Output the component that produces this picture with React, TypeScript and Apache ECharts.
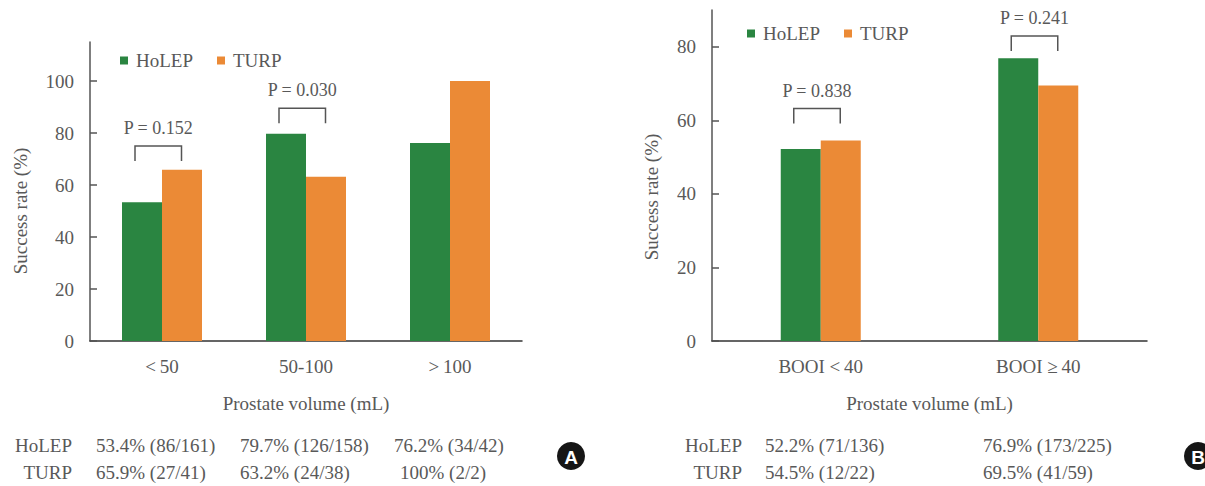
import React, { useEffect, useRef } from "react";
import * as echarts from "echarts";

const categoriesA = ["<\u200950", "50-100", ">\u2009100"];
const holepA = [53.4, 79.7, 76.2];
const turpA = [65.9, 63.2, 100];
const yTicksA = [0, 20, 40, 60, 80, 100];

const categoriesB = ["BOOI <\u200940", "BOOI \u2265\u200940"];
const holepB = [52.2, 76.9];
const turpB = [54.5, 69.5];
const yTicksB = [0, 20, 40, 60, 80];

const pCatsA = [0, 1];
const pLevelsA = [75, 89.5];
const pLabelsA = ["P = 0.152", "P = 0.030"];
const pCatsB = [0, 1];
const pLevelsB = [63.2, 82.9];
const pLabelsB = ["P = 0.838", "P = 0.241"];

const tableHolepA = ["53.4% (86/161)", "79.7% (126/158)", "76.2% (34/42)"];
const tableTurpA = ["65.9% (27/41)", "63.2% (24/38)", "100% (2/2)"];
const tableHolepB = ["52.2% (71/136)", "76.9% (173/225)"];
const tableTurpB = ["54.5% (12/22)", "69.5% (41/59)"];

const GREEN = "#2A8541";
const ORANGE = "#EB8A36";
const TEXT = "#595959";
const FONT = "Liberation Serif";

function bracketSeries(xAxisIndex: number, cats: number[], levels: number[], labels: string[]) {
  return {
    type: "custom",
    xAxisIndex,
    yAxisIndex: xAxisIndex,
    clip: false,
    silent: true,
    data: cats.map((c, i) => [c, levels[i]]),
    renderItem: (params: any, api: any) => {
      const p = api.coord([api.value(0), api.value(1)]);
      const cx = p[0];
      const y = p[1];
      const l = cx - 27;
      const r = cx + 19.5;
      return {
        type: "group",
        children: [
          {
            type: "polyline",
            shape: { points: [[l, y + 15], [l, y], [r, y], [r, y + 15]] },
            style: { stroke: "#555", lineWidth: 1.5, fill: "none" },
          },
          {
            type: "text",
            x: (l + r) / 2,
            y: y - 18,
            style: {
              text: labels[params.dataIndex],
              fill: TEXT,
              fontSize: 18,
              fontFamily: FONT,
              align: "center",
              verticalAlign: "middle",
            },
          },
        ],
      };
    },
  };
}

function txtStyle(text: string, align = "left", size = 19) {
  return { text, fill: TEXT, fontSize: size, fontFamily: FONT, align, verticalAlign: "middle" };
}

function tableTexts(labelRight: number, colX: number[], holep: string[], turp: string[], turpX: number[]) {
  const els: any[] = [];
  els.push({ type: "text", x: labelRight, y: 445, style: txtStyle("HoLEP", "right") });
  els.push({ type: "text", x: labelRight, y: 472, style: txtStyle("TURP", "right") });
  holep.forEach((t, i) => els.push({ type: "text", x: colX[i], y: 445, style: txtStyle(t) }));
  turp.forEach((t, i) => els.push({ type: "text", x: turpX[i], y: 472, style: txtStyle(t) }));
  return els;
}

export default function App() {
  const ref = useRef<HTMLDivElement>(null);
  useEffect(() => {
    if (!ref.current) return;
    const chart = echarts.init(ref.current, null, { renderer: "svg" });
    const xAxisCommon = {
      type: "category",
      axisLine: { lineStyle: { color: "#333", width: 1.5 } },
      axisTick: { inside: true, length: 7, lineStyle: { color: "#333", width: 1.5 } },
      axisLabel: { color: TEXT, fontSize: 19, fontFamily: FONT, margin: 16 },
      name: "Prostate volume (mL)",
      nameLocation: "middle",
      nameGap: 53,
      nameTextStyle: { color: TEXT, fontSize: 19, fontFamily: FONT },
    };
    const yAxisCommon = (max: number, ticks: number[]) => ({
      type: "value",
      min: 0,
      max,
      interval: 20,
      splitLine: { show: false },
      axisLine: { show: true, lineStyle: { color: "#555", width: 1.5 } },
      axisTick: { show: true, inside: true, length: 7, customValues: ticks, lineStyle: { color: "#555", width: 1.5 } },
      axisLabel: { color: TEXT, fontSize: 19, fontFamily: FONT, margin: 16, customValues: ticks },
    });
    const legendCommon = {
      data: ["HoLEP", "TURP"],
      icon: "rect",
      itemWidth: 8,
      itemHeight: 8,
      itemGap: 24,
      textStyle: { color: TEXT, fontSize: 19, fontFamily: FONT, padding: [0, 0, 0, 3] },
    };
    chart.setOption({
      animation: false,
      textStyle: { fontFamily: FONT },
      grid: [
        { left: 90, top: 42, width: 432, height: 299 },
        { left: 712, top: 10, width: 435, height: 331 },
      ],
      legend: [
        { ...legendCommon, left: 115, top: 46 },
        { ...legendCommon, left: 742, top: 19 },
      ],
      xAxis: [
        { ...xAxisCommon, gridIndex: 0, data: categoriesA },
        { ...xAxisCommon, gridIndex: 1, data: categoriesB },
      ],
      yAxis: [
        { ...yAxisCommon(115, yTicksA), gridIndex: 0 },
        { ...yAxisCommon(90, yTicksB), gridIndex: 1 },
      ],
      series: [
        { name: "HoLEP", type: "bar", xAxisIndex: 0, yAxisIndex: 0, data: holepA, barWidth: 40, barGap: "0%", itemStyle: { color: GREEN } },
        { name: "TURP", type: "bar", xAxisIndex: 0, yAxisIndex: 0, data: turpA, barWidth: 40, barGap: "0%", itemStyle: { color: ORANGE } },
        { name: "HoLEP", type: "bar", xAxisIndex: 1, yAxisIndex: 1, data: holepB, barWidth: 40, barGap: "0%", itemStyle: { color: GREEN } },
        { name: "TURP", type: "bar", xAxisIndex: 1, yAxisIndex: 1, data: turpB, barWidth: 40, barGap: "0%", itemStyle: { color: ORANGE } },
        bracketSeries(0, pCatsA, pLevelsA, pLabelsA),
        bracketSeries(1, pCatsB, pLevelsB, pLabelsB),
      ],
      graphic: [
        { type: "text", x: 20, y: 211, rotation: Math.PI / 2, style: txtStyle("Success rate (%)", "center") },
        { type: "text", x: 651, y: 197, rotation: Math.PI / 2, style: txtStyle("Success rate (%)", "center") },
        ...tableTexts(72, [96, 240, 394], tableHolepA, tableTurpA, [96, 240, 400]),
        ...tableTexts(742, [765, 983], tableHolepB, tableTurpB, [765, 983]),
        { type: "circle", shape: { cx: 571, cy: 456, r: 14 }, style: { fill: "#161616" } },
        {
          type: "text",
          x: 571,
          y: 457,
          style: { text: "A", fill: "#fff", fontSize: 19, fontWeight: "bold", fontFamily: "Liberation Sans", align: "center", verticalAlign: "middle" },
        },
        { type: "circle", shape: { cx: 1198, cy: 456, r: 14 }, style: { fill: "#161616" } },
        {
          type: "text",
          x: 1198,
          y: 457,
          style: { text: "B", fill: "#fff", fontSize: 19, fontWeight: "bold", fontFamily: "Liberation Sans", align: "center", verticalAlign: "middle" },
        },
      ],
    });
    return () => chart.dispose();
  }, []);
  return <div ref={ref} style={{ position: "absolute", left: 0, top: 0, width: 1205, height: 486 }} />;
}
